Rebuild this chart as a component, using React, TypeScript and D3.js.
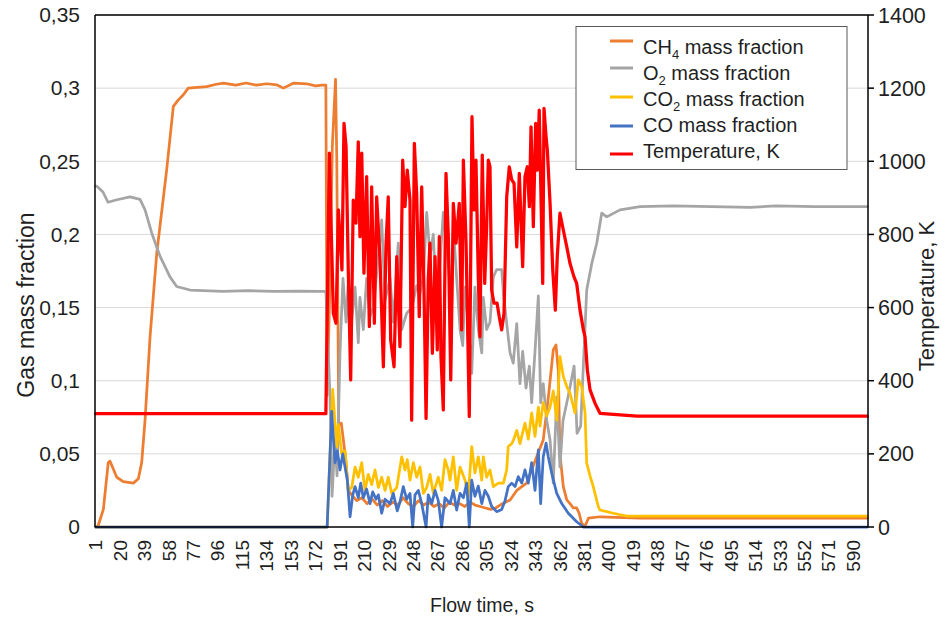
import React from 'react';
import * as d3 from 'd3';

type Pt = [number, number];

// [flow time, value]
const ch4Data: Pt[] = [
  [1, 0], [3, 0.001], [7, 0.012], [10.8, 0.044], [12.2, 0.045], [17.4, 0.034], [22.5, 0.031], [30.3, 0.03],
  [34.2, 0.033], [36.8, 0.044], [39.4, 0.073], [43.3, 0.13], [48.5, 0.187], [56.2, 0.244], [61.4, 0.2875],
  [65.3, 0.292], [69.2, 0.2955], [73, 0.3], [80, 0.3005], [87.3, 0.301], [94, 0.3025], [100.3, 0.3035],
  [110, 0.302], [118, 0.3035], [126, 0.302], [134, 0.303], [142, 0.3022], [147, 0.3], [155, 0.3035],
  [165, 0.303], [172, 0.3015], [177, 0.302], [180, 0.302],
  [181, 0.09], [183, 0.16], [185, 0.26], [187.5, 0.306], [188.5, 0.25], [190, 0.07], [192, 0.071],
  [195.5, 0.046], [197.4, 0.025],
  [200, 0.022], [204, 0.018], [208, 0.02], [212, 0.016], [216, 0.019], [220, 0.015], [224, 0.018],
  [228, 0.014], [232, 0.017], [236, 0.015], [240, 0.02], [244, 0.016], [248, 0.014], [252, 0.018],
  [256, 0.015], [260, 0.017], [264, 0.014], [268, 0.016], [272, 0.013], [276, 0.017], [280, 0.015],
  [284, 0.016], [288, 0.014], [292, 0.017], [296, 0.015], [300, 0.014], [304, 0.013], [308, 0.012],
  [312, 0.013], [315.4, 0.015], [323.2, 0.0185], [328.4, 0.025], [336.1, 0.03], [343.9, 0.048],
  [349, 0.0595], [353, 0.089], [356.8, 0.121], [358.9, 0.1245], [360.7, 0.107], [362, 0.05],
  [364.6, 0.0276], [367.3, 0.0185], [369.8, 0.016], [372.4, 0.013], [375, 0.013], [376.9, 0.0094],
  [378.9, 0.0025], [381.5, 0.0005], [384.1, 0.006], [393.1, 0.007], [424.3, 0.006], [601, 0.006],
];

const o2Data: Pt[] = [
  [1, 0.233], [2, 0.233], [6.7, 0.229], [10.6, 0.222], [17.6, 0.2237], [27.7, 0.2257], [35.5, 0.224],
  [39.4, 0.2168], [44.6, 0.201], [51.1, 0.185], [58.8, 0.171], [64, 0.1644], [74.4, 0.162], [100, 0.161],
  [120, 0.1615], [140, 0.161], [160, 0.1612], [175, 0.161], [180, 0.161],
  [183.2, 0.09], [184.8, 0.021], [187.1, 0.06], [188.7, 0.035], [191, 0.12], [193.3, 0.17], [195.7, 0.14],
  [197.2, 0.165], [198.8, 0.13], [202.7, 0.164], [205.2, 0.126], [206.5, 0.157], [209.1, 0.135],
  [211.7, 0.17], [214.3, 0.144], [216.9, 0.15], [220.8, 0.185], [223.4, 0.21], [226, 0.155],
  [229.9, 0.17], [232.4, 0.14], [236.3, 0.194], [239, 0.135], [242.8, 0.146], [246.7, 0.15],
  [250.6, 0.165], [253.2, 0.16], [255.8, 0.171], [258.4, 0.215], [261, 0.185], [263.5, 0.2],
  [266.2, 0.15], [268.7, 0.18], [271.3, 0.215], [275.2, 0.18], [277.8, 0.15], [279.1, 0.205],
  [281.7, 0.17], [284.3, 0.135], [286.4, 0.124], [288.2, 0.164], [290.7, 0.14], [293.4, 0.105],
  [295.9, 0.164], [298.5, 0.135], [301.2, 0.119], [302.4, 0.157], [305, 0.135], [307.6, 0.14],
  [310.2, 0.171], [312.8, 0.176], [316.7, 0.176], [318, 0.16], [320.6, 0.139], [323.2, 0.119],
  [325.7, 0.112], [328.4, 0.139], [330.9, 0.098], [333, 0.12], [335.6, 0.095], [338.2, 0.11],
  [340, 0.085], [342.6, 0.12], [345.2, 0.158], [347, 0.085], [349, 0.098], [351.7, 0.073],
  [354.3, 0.0595], [356.8, 0.03], [359.5, 0.089], [362, 0.041], [364.4, 0.073], [368.3, 0.089],
  [373, 0.11], [375.3, 0.064], [378.1, 0.069], [382.8, 0.162], [386.7, 0.18], [390.6, 0.194],
  [394.5, 0.2146], [398.4, 0.212], [408.7, 0.2168], [424.3, 0.219], [450, 0.2195], [480, 0.219],
  [510, 0.2185], [530, 0.2195], [560, 0.219], [601, 0.219],
];

const co2Data: Pt[] = [
  [1, 0], [181, 0], [185.3, 0.094], [188.4, 0.055], [189.7, 0.07], [192.3, 0.05], [194.9, 0.052],
  [197.4, 0.025], [200.1, 0.027], [202.7, 0.041], [205.2, 0.034], [207.9, 0.044], [210.4, 0.025],
  [213, 0.036], [215.6, 0.029], [218.2, 0.039], [220.8, 0.027], [223.4, 0.034], [226, 0.025],
  [228.5, 0.034], [231.2, 0.023], [235.1, 0.027], [239, 0.048], [241.5, 0.039], [243.3, 0.046],
  [245.4, 0.032], [248, 0.044], [250.6, 0.034], [253.2, 0.041], [255.8, 0.023], [258.4, 0.027],
  [261, 0.036], [263.5, 0.023], [267.4, 0.034], [270, 0.025], [272.6, 0.046], [275.2, 0.039],
  [276.5, 0.032], [279.1, 0.048], [281.7, 0.025], [284.3, 0.041], [288.2, 0.032], [290.7, 0.021],
  [293.4, 0.055], [295.9, 0.037], [298.5, 0.048], [301.2, 0.032], [302.4, 0.048], [305, 0.034],
  [307.6, 0.039], [310.2, 0.0276], [314.1, 0.03], [318, 0.03], [320.6, 0.039], [321.8, 0.055],
  [324.5, 0.057], [325.7, 0.059], [328.4, 0.066], [330.9, 0.057], [332.3, 0.062], [334.8, 0.071],
  [337.4, 0.06], [340, 0.078], [342.6, 0.062], [345.2, 0.082], [346.5, 0.069], [349, 0.085],
  [351.7, 0.076], [354.3, 0.082], [356.8, 0.093], [359.5, 0.073], [362, 0.1165], [364.6, 0.103],
  [367.3, 0.096], [369.8, 0.0915], [373.7, 0.078], [376.3, 0.1006], [378.9, 0.096], [381.5, 0.078],
  [382.8, 0.0436], [385.4, 0.035], [387.9, 0.0276], [391.8, 0.014], [393.1, 0.0116], [398.3, 0.0105],
  [403.5, 0.0094], [413.9, 0.0075], [601, 0.0075],
];

const coData: Pt[] = [
  [1, 0], [181, 0], [184.5, 0.079], [187.1, 0.044], [188.9, 0.052], [191, 0.039], [193.1, 0.05],
  [194.9, 0.041], [196.7, 0.032], [198.8, 0.007], [200.9, 0.022], [202.7, 0.0276], [205.2, 0.02],
  [207.1, 0.03], [209.1, 0.02], [211.7, 0.026], [214.3, 0.016], [216.4, 0.024], [219, 0.019],
  [220.8, 0.022], [223.4, 0.0094], [226, 0.019], [229.9, 0.016], [232.4, 0.023], [235.5, 0.011],
  [237.6, 0.017], [240.2, 0.0276], [242.8, 0.019], [245.4, 0.023], [247.5, 0], [249.3, 0.022],
  [251.9, 0.025], [254.5, 0.016], [257.9, 0], [259.6, 0.022], [262.3, 0.016], [264.9, 0.025],
  [267.4, 0.018], [270, 0], [272.6, 0.02], [276.5, 0.016], [279.1, 0.025], [281.7, 0.0116],
  [284.3, 0.023], [286.9, 0.02], [289.5, 0.03], [291.5, 0], [293.4, 0.032], [295.9, 0.021],
  [298.5, 0.028], [301.2, 0.016], [303.7, 0.025], [306.3, 0.021], [308.9, 0.014], [312.8, 0.0105],
  [316.7, 0.012], [319.3, 0.018], [321.8, 0.0276], [324.5, 0.03], [327.1, 0.0276], [329.6, 0.0344],
  [332.3, 0.03], [334.8, 0.039], [337.4, 0.03], [340, 0.044], [342.6, 0.025], [345.2, 0.0527],
  [347, 0.016], [349, 0.048], [351.2, 0.0573], [352.9, 0.048], [355.6, 0.0367], [359.5, 0.023],
  [363.4, 0.016], [368.5, 0.0094], [375, 0.0036], [380.2, 0], [601, 0],
];

const tempData: Pt[] = [
  [1, 310], [180, 310], [182.7, 1022], [185.8, 584], [187.9, 557], [189.7, 867], [192.5, 703],
  [194.1, 1104], [195.7, 1040], [197.4, 703], [199.3, 402], [201.3, 894], [203.4, 831], [205.2, 1053],
  [206.5, 794], [207.9, 1022], [209.6, 694], [211.7, 958], [213.8, 548], [215.6, 930], [217.7, 557],
  [219.5, 903], [222.1, 730], [224.7, 438], [226.8, 775], [228.5, 903], [230.4, 511], [233, 438],
  [235.1, 739], [237.6, 493], [239.7, 1003], [241.5, 876], [243.3, 976], [245.4, 894], [246.7, 292],
  [248.8, 1049], [250.6, 912], [252.6, 575], [254.5, 930], [256.3, 648], [257.9, 297], [259.6, 675],
  [260.9, 776], [262.8, 475], [264.9, 739], [266.6, 484], [268.2, 794], [269.5, 466], [271.3, 320],
  [273.4, 967], [275.2, 794], [277.1, 402], [279.1, 885], [281.2, 776], [283.7, 885], [285.6, 539],
  [286.9, 1003], [289, 776], [291.5, 302], [293.6, 1122], [295.2, 867], [296.7, 1003], [298.5, 684],
  [299.8, 520], [301.6, 1017], [303.5, 666], [305, 821], [306.3, 1003], [307.6, 985], [308.9, 648],
  [310.7, 612], [313.1, 612], [314.8, 575], [316.7, 539], [318.5, 584], [320.6, 903], [322.6, 985],
  [324.5, 949], [326.3, 940], [328.4, 766], [330.4, 967], [333, 712], [334.8, 958], [336.6, 985],
  [338.2, 876], [339.5, 1094], [341.3, 821], [343.1, 1104], [344.4, 976], [345.9, 1140], [348.6, 666],
  [349.6, 1145], [351.2, 1067], [352.2, 1030], [354.3, 885], [356.4, 703], [358.4, 593], [359.9, 739],
  [362, 858], [364.6, 812], [367.3, 766], [369.8, 721], [372.9, 684], [375, 666], [377.6, 593],
  [380.2, 539], [381.5, 520], [383.3, 429], [385.4, 375], [389.3, 338], [393.1, 311], [421.9, 303],
  [601, 303],
];

const fracTicks = [0, 0.05, 0.1, 0.15, 0.2, 0.25, 0.3, 0.35];
const tempTicks = [0, 200, 400, 600, 800, 1000, 1200, 1400];
const timeTicks = [1, 20, 39, 58, 77, 96, 115, 134, 153, 172, 191, 210, 229, 248, 267, 286, 305, 324,
  343, 362, 381, 400, 419, 438, 457, 476, 495, 514, 533, 552, 571, 590];

const series = [
  { key: 'ch4', data: ch4Data, color: '#ED7D31', right: false, width: 2.75 },
  { key: 'o2', data: o2Data, color: '#A5A5A5', right: false, width: 2.75 },
  { key: 'co2', data: co2Data, color: '#FFC000', right: false, width: 2.75 },
  { key: 'co', data: coData, color: '#4472C4', right: false, width: 2.75 },
  { key: 'temp', data: tempData, color: '#FF0000', right: true, width: 3.25 },
];

const legendItems = [
  { name: 'CH', sub: '4', rest: ' mass fraction', color: '#ED7D31', lineY: 41 },
  { name: 'O', sub: '2', rest: ' mass fraction', color: '#A5A5A5', lineY: 68 },
  { name: 'CO', sub: '2', rest: ' mass fraction', color: '#FFC000', lineY: 97 },
  { name: 'CO mass fraction', sub: '', rest: '', color: '#4472C4', lineY: 126 },
  { name: 'Temperature,  K', sub: '', rest: '', color: '#FF0000', lineY: 154 },
];

const W = 946;
const H = 619;
const left = 95;
const right = 868;
const top = 15;
const bottom = 527;
const font = '"Liberation Sans", Arial, sans-serif';
const textColor = '#1f1f1f';

export default function App() {
  const x = d3.scaleLinear().domain([0.5, 601.5]).range([left, right]);
  const yL = d3.scaleLinear().domain([0, 0.35]).range([bottom, top]);
  const yR = d3.scaleLinear().domain([0, 1400]).range([bottom, top]);

  const fmt = (v: number) => String(v).replace('.', ',');

  return (
    <div style={{ position: 'absolute', left: 0, top: 0 }}>
      <svg width={W} height={H} style={{ display: 'block', background: '#fff' }} fontFamily={font}>
        {/* gridlines */}
        {fracTicks.slice(1).map((t) => (
          <line key={t} x1={left} x2={right} y1={yL(t)} y2={yL(t)} stroke="#d9d9d9" strokeWidth={1} />
        ))}

        {/* series, temperature last so it sits on top */}
        {series.map((s) => {
          const y = s.right ? yR : yL;
          const line = d3.line<Pt>().x((d) => x(d[0])).y((d) => y(d[1]));
          return (
            <path key={s.key} d={line(s.data) || ''} fill="none" stroke={s.color}
              strokeWidth={s.width} strokeLinejoin="round" strokeLinecap="round" />
          );
        })}

        {/* frame */}
        <line x1={left} x2={right} y1={top} y2={top} stroke="#000" strokeWidth={1.5} />
        <line x1={left} x2={right} y1={bottom} y2={bottom} stroke="#000" strokeWidth={1.5} />
        <line x1={left} x2={left} y1={top} y2={bottom} stroke="#000" strokeWidth={1.5} />
        <line x1={right} x2={right} y1={top} y2={bottom} stroke="#000" strokeWidth={1.5} />

        {/* left axis labels */}
        {fracTicks.map((t) => (
          <text key={t} x={80} y={yL(t)} dy="0.35em" textAnchor="end" fontSize={21} fill={textColor}>
            {fmt(t)}
          </text>
        ))}

        {/* right axis ticks and labels */}
        {tempTicks.map((t) => (
          <g key={t}>
            <line x1={right} x2={right + 6} y1={yR(t)} y2={yR(t)} stroke="#000" strokeWidth={1.5} />
            <text x={878} y={yR(t)} dy="0.35em" textAnchor="start" fontSize={21.5} fill={textColor}>
              {t}
            </text>
          </g>
        ))}

        {/* bottom labels */}
        {timeTicks.map((t) => (
          <text key={t} transform={`translate(${x(t)},540) rotate(-90)`} dy="0.35em" textAnchor="end"
            fontSize={19} fill={textColor}>
            {t}
          </text>
        ))}

        {/* axis titles */}
        <text transform={`translate(34,305) rotate(-90)`} textAnchor="middle" fontSize={23} fill={textColor}>
          Gas mass fraction
        </text>
        <text transform={`translate(934,296) rotate(-90)`} textAnchor="middle" fontSize={22} fill={textColor}>
          Temperature, K
        </text>
        <text x={482} y={612} textAnchor="middle" fontSize={19.5} fill={textColor}>
          Flow time, s
        </text>

        {/* legend */}
        <rect x={576} y={26.5} width={271} height={143} fill="#fff" stroke="#595959" strokeWidth={1} />
        {legendItems.map((it, i) => {
          const ty = 47 + i * 26;
          return (
            <g key={i}>
              <line x1={610} x2={633} y1={it.lineY} y2={it.lineY} stroke={it.color} strokeWidth={3} />
              <text x={643} y={ty} dy="0.35em" fontSize={20} fill={textColor}>
                {it.name}
                {it.sub && (
                  <tspan fontSize={13} dy={5}>{it.sub}</tspan>
                )}
                {it.rest && <tspan dy={it.sub ? -5 : 0}>{it.rest}</tspan>}
              </text>
            </g>
          );
        })}
      </svg>
    </div>
  );
}
